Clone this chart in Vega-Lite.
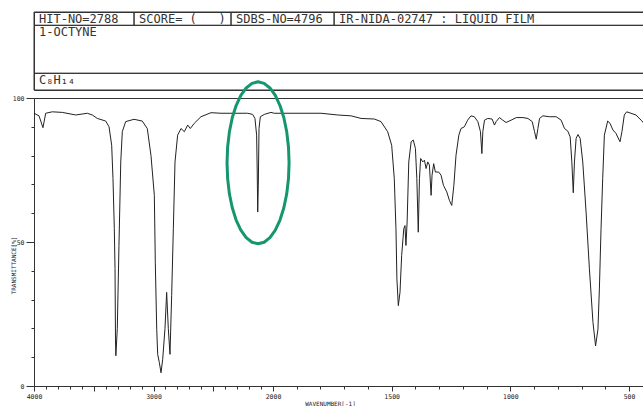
{
  "$schema": "https://vega.github.io/schema/vega-lite/v6.json",
  "padding": {"left": 9, "top": 11, "right": 0, "bottom": 0},
  "background": "white",
  "config": {"view": {"stroke": "#333", "strokeWidth": 1}, "font": "DejaVu Sans Mono"},
  "spacing": 8,
  "bounds": "flush",
  "vconcat": [
    {
      "width": 610,
      "height": 78,
      "data": {"values": [
        {"x0": 0, "x1": 16.4, "y0": 0, "y1": 17.1, "label": "HIT-NO=2788"},
        {"x0": 16.4, "x1": 32.3, "y0": 0, "y1": 17.1, "label": "SCORE=\u00a0(\u00a0\u00a0\u00a0)"},
        {"x0": 32.3, "x1": 49.2, "y0": 0, "y1": 17.1, "label": "SDBS-NO=4796"},
        {"x0": 49.2, "x1": 100, "y0": 0, "y1": 17.1, "label": "IR-NIDA-02747 : LIQUID FILM"},
        {"x0": 0, "x1": 100, "y0": 17.1, "y1": 78.6, "label": "1-OCTYNE"},
        {"x0": 0, "x1": 100, "y0": 78.6, "y1": 100, "label": "C₈H₁₄"}
      ]},
      "encoding": {
        "x": {"field": "x0", "type": "quantitative", "scale": {"domain": [0, 100], "nice": false}, "axis": null},
        "y": {"field": "y0", "type": "quantitative", "scale": {"domain": [0, 100], "nice": false, "reverse": true}, "axis": null}
      },
      "layer": [
        {"mark": {"type": "rect", "fill": null, "stroke": "#333", "strokeWidth": 1}, "encoding": {"x2": {"field": "x1"}, "y2": {"field": "y1"}}},
        {"mark": {"type": "text", "align": "left", "baseline": "top", "dx": 5, "dy": 2, "fontSize": 12, "color": "#333", "font": "DejaVu Sans Mono"}, "encoding": {"text": {"field": "label"}}}
      ]
    },
    {
      "width": 610,
      "height": 288,
      "layer": [
        {
          "data": {"values": [
            {"wavenumber": 4000, "transmittance": 94.7}, {"wavenumber": 3958, "transmittance": 93.8}, {"wavenumber": 3925, "transmittance": 89.7}, {"wavenumber": 3902, "transmittance": 94.7}, {"wavenumber": 3847, "transmittance": 95.2}, {"wavenumber": 3763, "transmittance": 95.0}, {"wavenumber": 3651, "transmittance": 94.1}, {"wavenumber": 3554, "transmittance": 94.7}, {"wavenumber": 3512, "transmittance": 94.1}, {"wavenumber": 3470, "transmittance": 92.9}, {"wavenumber": 3400, "transmittance": 92.0}, {"wavenumber": 3372, "transmittance": 90.0}, {"wavenumber": 3350, "transmittance": 83.6}, {"wavenumber": 3339, "transmittance": 72.0}, {"wavenumber": 3328, "transmittance": 54.7}, {"wavenumber": 3322, "transmittance": 40.8}, {"wavenumber": 3318, "transmittance": 16.0}, {"wavenumber": 3315, "transmittance": 10.5}, {"wavenumber": 3303, "transmittance": 19.9}, {"wavenumber": 3289, "transmittance": 48.8}, {"wavenumber": 3274, "transmittance": 77.8}, {"wavenumber": 3261, "transmittance": 88.3}, {"wavenumber": 3233, "transmittance": 91.8}, {"wavenumber": 3163, "transmittance": 92.6}, {"wavenumber": 3094, "transmittance": 92.0}, {"wavenumber": 3052, "transmittance": 89.4}, {"wavenumber": 3021, "transmittance": 80.0}, {"wavenumber": 2993, "transmittance": 66.2}, {"wavenumber": 2985, "transmittance": 43.0}, {"wavenumber": 2973, "transmittance": 19.7}, {"wavenumber": 2965, "transmittance": 11.0}, {"wavenumber": 2951, "transmittance": 8.1}, {"wavenumber": 2937, "transmittance": 4.6}, {"wavenumber": 2923, "transmittance": 9.3}, {"wavenumber": 2904, "transmittance": 19.9}, {"wavenumber": 2890, "transmittance": 32.5}, {"wavenumber": 2876, "transmittance": 19.9}, {"wavenumber": 2862, "transmittance": 11.0}, {"wavenumber": 2848, "transmittance": 31.4}, {"wavenumber": 2834, "transmittance": 54.6}, {"wavenumber": 2820, "transmittance": 77.8}, {"wavenumber": 2798, "transmittance": 87.1}, {"wavenumber": 2770, "transmittance": 89.4}, {"wavenumber": 2742, "transmittance": 88.3}, {"wavenumber": 2714, "transmittance": 90.6}, {"wavenumber": 2692, "transmittance": 89.4}, {"wavenumber": 2659, "transmittance": 91.2}, {"wavenumber": 2603, "transmittance": 93.5}, {"wavenumber": 2519, "transmittance": 94.9}, {"wavenumber": 2435, "transmittance": 94.7}, {"wavenumber": 2212, "transmittance": 94.7}, {"wavenumber": 2170, "transmittance": 94.3}, {"wavenumber": 2151, "transmittance": 92.9}, {"wavenumber": 2137, "transmittance": 87.1}, {"wavenumber": 2132, "transmittance": 74.3}, {"wavenumber": 2128, "transmittance": 60.4}, {"wavenumber": 2123, "transmittance": 69.7}, {"wavenumber": 2117, "transmittance": 89.4}, {"wavenumber": 2106, "transmittance": 93.5}, {"wavenumber": 2073, "transmittance": 94.3}, {"wavenumber": 2017, "transmittance": 95.0}, {"wavenumber": 1995, "transmittance": 94.7}, {"wavenumber": 1798, "transmittance": 94.7}, {"wavenumber": 1727, "transmittance": 94.1}, {"wavenumber": 1671, "transmittance": 93.8}, {"wavenumber": 1629, "transmittance": 92.9}, {"wavenumber": 1573, "transmittance": 92.7}, {"wavenumber": 1545, "transmittance": 91.8}, {"wavenumber": 1517, "transmittance": 88.3}, {"wavenumber": 1500, "transmittance": 83.6}, {"wavenumber": 1489, "transmittance": 72.0}, {"wavenumber": 1482, "transmittance": 54.6}, {"wavenumber": 1478, "transmittance": 37.2}, {"wavenumber": 1472, "transmittance": 27.9}, {"wavenumber": 1465, "transmittance": 32.5}, {"wavenumber": 1458, "transmittance": 45.3}, {"wavenumber": 1449, "transmittance": 54.6}, {"wavenumber": 1444, "transmittance": 55.7}, {"wavenumber": 1440, "transmittance": 48.8}, {"wavenumber": 1435, "transmittance": 56.9}, {"wavenumber": 1428, "transmittance": 77.8}, {"wavenumber": 1418, "transmittance": 84.8}, {"wavenumber": 1409, "transmittance": 85.4}, {"wavenumber": 1400, "transmittance": 82.5}, {"wavenumber": 1394, "transmittance": 72.0}, {"wavenumber": 1388, "transmittance": 53.4}, {"wavenumber": 1383, "transmittance": 72.0}, {"wavenumber": 1378, "transmittance": 79.0}, {"wavenumber": 1369, "transmittance": 77.8}, {"wavenumber": 1362, "transmittance": 78.4}, {"wavenumber": 1355, "transmittance": 75.5}, {"wavenumber": 1348, "transmittance": 77.8}, {"wavenumber": 1341, "transmittance": 76.7}, {"wavenumber": 1334, "transmittance": 66.2}, {"wavenumber": 1330, "transmittance": 73.2}, {"wavenumber": 1323, "transmittance": 77.2}, {"wavenumber": 1316, "transmittance": 74.3}, {"wavenumber": 1302, "transmittance": 74.3}, {"wavenumber": 1292, "transmittance": 73.2}, {"wavenumber": 1282, "transmittance": 69.7}, {"wavenumber": 1268, "transmittance": 67.4}, {"wavenumber": 1257, "transmittance": 64.5}, {"wavenumber": 1247, "transmittance": 62.7}, {"wavenumber": 1238, "transmittance": 69.7}, {"wavenumber": 1229, "transmittance": 80.1}, {"wavenumber": 1217, "transmittance": 87.1}, {"wavenumber": 1208, "transmittance": 89.4}, {"wavenumber": 1194, "transmittance": 90.0}, {"wavenumber": 1180, "transmittance": 92.3}, {"wavenumber": 1166, "transmittance": 93.8}, {"wavenumber": 1152, "transmittance": 93.5}, {"wavenumber": 1137, "transmittance": 91.8}, {"wavenumber": 1126, "transmittance": 88.3}, {"wavenumber": 1120, "transmittance": 80.7}, {"wavenumber": 1116, "transmittance": 88.3}, {"wavenumber": 1109, "transmittance": 92.3}, {"wavenumber": 1095, "transmittance": 92.9}, {"wavenumber": 1077, "transmittance": 92.7}, {"wavenumber": 1067, "transmittance": 90.6}, {"wavenumber": 1060, "transmittance": 91.8}, {"wavenumber": 1046, "transmittance": 93.2}, {"wavenumber": 1032, "transmittance": 92.3}, {"wavenumber": 1018, "transmittance": 91.5}, {"wavenumber": 997, "transmittance": 92.3}, {"wavenumber": 975, "transmittance": 93.2}, {"wavenumber": 947, "transmittance": 93.2}, {"wavenumber": 926, "transmittance": 92.9}, {"wavenumber": 908, "transmittance": 91.8}, {"wavenumber": 898, "transmittance": 88.3}, {"wavenumber": 891, "transmittance": 85.7}, {"wavenumber": 884, "transmittance": 89.4}, {"wavenumber": 877, "transmittance": 92.9}, {"wavenumber": 863, "transmittance": 93.8}, {"wavenumber": 835, "transmittance": 93.5}, {"wavenumber": 807, "transmittance": 93.5}, {"wavenumber": 786, "transmittance": 92.3}, {"wavenumber": 772, "transmittance": 89.4}, {"wavenumber": 758, "transmittance": 88.5}, {"wavenumber": 748, "transmittance": 86.5}, {"wavenumber": 741, "transmittance": 77.8}, {"wavenumber": 735, "transmittance": 67.1}, {"wavenumber": 730, "transmittance": 77.8}, {"wavenumber": 723, "transmittance": 86.0}, {"wavenumber": 715, "transmittance": 87.3}, {"wavenumber": 706, "transmittance": 86.0}, {"wavenumber": 695, "transmittance": 77.8}, {"wavenumber": 681, "transmittance": 60.4}, {"wavenumber": 667, "transmittance": 40.7}, {"wavenumber": 652, "transmittance": 22.1}, {"wavenumber": 641, "transmittance": 13.9}, {"wavenumber": 631, "transmittance": 19.7}, {"wavenumber": 625, "transmittance": 33.7}, {"wavenumber": 618, "transmittance": 54.6}, {"wavenumber": 611, "transmittance": 72.0}, {"wavenumber": 604, "transmittance": 87.1}, {"wavenumber": 590, "transmittance": 92.0}, {"wavenumber": 580, "transmittance": 91.2}, {"wavenumber": 568, "transmittance": 88.9}, {"wavenumber": 555, "transmittance": 87.7}, {"wavenumber": 538, "transmittance": 84.8}, {"wavenumber": 530, "transmittance": 88.3}, {"wavenumber": 520, "transmittance": 94.1}, {"wavenumber": 510, "transmittance": 95.2}, {"wavenumber": 492, "transmittance": 94.7}, {"wavenumber": 471, "transmittance": 94.1}, {"wavenumber": 449, "transmittance": 92.3}, {"wavenumber": 437, "transmittance": 91.2}
          ]},
          "mark": {"type": "line", "color": "#222", "strokeWidth": 1},
          "encoding": {
            "x": {
              "field": "wavenumber", "type": "quantitative",
              "scale": {"domain": [4000, 2000, 437], "range": [0, 239, 610], "nice": false, "zero": false},
              "axis": {
                "values": [4000, 3900, 3800, 3700, 3600, 3500, 3400, 3300, 3200, 3100, 3000, 2900, 2800, 2700, 2600, 2500, 2400, 2300, 2200, 2100, 2000, 1900, 1800, 1700, 1600, 1500, 1400, 1300, 1200, 1100, 1000, 900, 800, 700, 600, 500],
                "tickCount": 200,
                "labelExpr": "indexof([4000, 3000, 2000, 1500, 1000, 500], datum.value) >= 0 ? datum.value : ''",
                "tickSize": {"condition": {"test": "indexof([4000, 3000, 2000, 1500, 1000, 500, 3500, 2500], datum.value) >= 0", "value": 5}, "value": 3},
                "labelFont": "DejaVu Sans Mono", "labelFontSize": 6.5, "labelPadding": 2, "labelColor": "#222",
                "labelFlush": false, "labelOverlap": false,
                "title": "WAVENUMBER[-1]", "titleFont": "DejaVu Sans Mono", "titleFontSize": 6, "titleFontWeight": "normal", "titlePadding": 1, "titleColor": "#222",
                "titleX": 296, "titleAlign": "center",
                "grid": false, "domainColor": "#333", "tickColor": "#333"
              }
            },
            "y": {
              "field": "transmittance", "type": "quantitative",
              "scale": {"domain": [0, 100], "nice": false},
              "axis": {
                "values": [0, 10, 20, 30, 40, 50, 60, 70, 80, 90, 100],
                "tickCount": 200,
                "labelExpr": "datum.value % 50 == 0 ? datum.value : ''",
                "tickSize": {"condition": {"test": "datum.value % 50 == 0", "value": 8}, "value": 3},
                "labelFont": "DejaVu Sans Mono", "labelFontSize": 6.5, "labelPadding": 2, "labelColor": "#222",
                "labelFlush": false, "labelOverlap": false,
                "title": "TRANSMITTANCE[%]", "titleFont": "DejaVu Sans Mono", "titleFontSize": 6, "titleFontWeight": "normal", "titleColor": "#222",
                "titleAngle": 270, "titleX": -18, "titleY": 167, "titleAlign": "center", "titleBaseline": "bottom",
                "grid": false, "domainColor": "#333", "tickColor": "#333"
              }
            }
          }
        },
        {
          "data": {"values": [{"wavenumber": 2125, "transmittance": 77.5}]},
          "mark": {"type": "point", "shape": "M0,-1L0.0747,-0.9808L0.1466,-0.9239L0.2128,-0.8315L0.2708,-0.7071L0.3185,-0.5556L0.3539,-0.3827L0.3756,-0.1951L0.383,0L0.3756,0.1951L0.3539,0.3827L0.3185,0.5556L0.2708,0.7071L0.2128,0.8315L0.1466,0.9239L0.0747,0.9808L0,1L-0.0747,0.9808L-0.1466,0.9239L-0.2128,0.8315L-0.2708,0.7071L-0.3185,0.5556L-0.3539,0.3827L-0.3756,0.1951L-0.383,0L-0.3756,-0.1951L-0.3539,-0.3827L-0.3185,-0.5556L-0.2708,-0.7071L-0.2128,-0.8315L-0.1466,-0.9239L-0.0747,-0.9808Z", "size": 26244, "filled": false, "color": "#16966E", "strokeWidth": 3, "opacity": 1, "strokeJoin": "round"},
          "encoding": {"x": {"field": "wavenumber", "type": "quantitative"}, "y": {"field": "transmittance", "type": "quantitative"}}
        }
      ]
    }
  ]
}
